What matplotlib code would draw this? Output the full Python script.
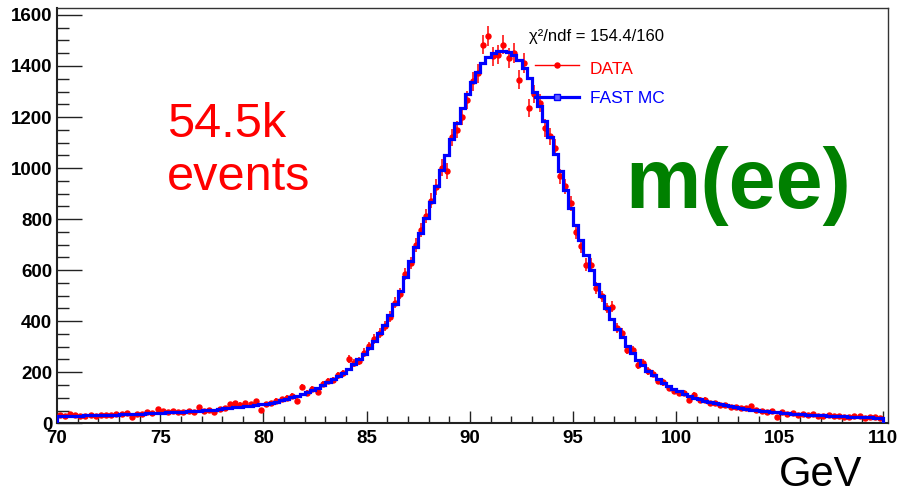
import numpy as np
import matplotlib
matplotlib.use('Agg')
import matplotlib.pyplot as plt
from matplotlib.ticker import MultipleLocator

plt.rcParams['font.family'] = ['Liberation Sans', 'DejaVu Sans']

# ── Binning: 160 bins of 0.25 GeV between 70 and 110 ─────────────────────────
X_MIN, X_MAX, N_BINS = 70.0, 110.0, 160
edges = np.linspace(X_MIN, X_MAX, N_BINS + 1)
centers = 0.5 * (edges[:-1] + edges[1:])

# FAST MC histogram (one row = 2.5 GeV)
mc_counts = np.array([
    28, 29, 29, 30, 30, 31, 31, 32, 32, 33,             # 70.0
    34, 34, 35, 36, 36, 37, 38, 39, 40, 41,             # 72.5
    42, 43, 44, 45, 46, 47, 48, 50, 51, 52,             # 75.0
    54, 56, 58, 60, 62, 64, 67, 69, 72, 74,             # 77.5
    77, 81, 85, 90, 96, 102, 108, 115, 122, 131,        # 80.0
    140, 150, 160, 172, 185, 199, 214, 231, 250, 271,   # 82.5
    295, 322, 352, 386, 424, 466, 518, 575, 635, 690,   # 85.0
    745, 804, 866, 930, 993, 1052, 1114, 1175, 1235, 1290,   # 87.5
    1338, 1378, 1410, 1437, 1450, 1457, 1460, 1456, 1443, 1422,  # 90.0
    1392, 1352, 1300, 1245, 1185, 1120, 1055, 987, 915, 843,    # 92.5
    778, 719, 660, 601, 546, 497, 451, 408, 369, 337,   # 95.0
    302, 275, 248, 227, 206, 188, 172, 158, 146, 135,   # 97.5
    125, 116, 108, 101, 95, 89, 84, 79, 74, 70,         # 100.0
    66, 63, 60, 57, 54, 51, 49, 47, 45, 43,             # 102.5
    41, 40, 38, 37, 35, 34, 33, 32, 31, 30,             # 105.0
    29, 28, 27, 26, 25, 25, 24, 23, 22, 21,             # 107.5
], dtype=float)

# DATA points
data_counts = np.array([
    33, 30, 36, 34, 27, 30, 34, 29, 33, 31,             # 70.0
    33, 36, 38, 42, 24, 37, 38, 45, 40, 55,             # 72.5
    50, 44, 50, 46, 46, 48, 45, 65, 49, 52,             # 75.0
    46, 55, 58, 76, 78, 73, 78, 75, 87, 52,             # 77.5
    74, 80, 88, 94, 99, 107, 89, 141, 118, 134,         # 80.0
    124, 153, 166, 170, 189, 196, 251, 236, 246, 277,   # 82.5
    302, 330, 353, 380, 418, 473, 508, 586, 628, 698,   # 85.0
    756, 812, 872, 925, 1002, 987, 1120, 1150, 1202, 1268,   # 87.5
    1340, 1372, 1484, 1516, 1438, 1444, 1484, 1431, 1451, 1346,  # 90.0
    1412, 1235, 1290, 1255, 1157, 1124, 1080, 967, 928, 863,    # 92.5
    751, 693, 621, 621, 529, 497, 452, 457, 374, 354,   # 95.0
    287, 287, 229, 235, 205, 195, 166, 160, 140, 128,   # 97.5
    120, 118, 91, 111, 93, 92, 80, 80, 72, 70,          # 100.0
    62, 64, 58, 60, 68, 52, 48, 45, 49, 26,             # 102.5
    45, 38, 39, 34, 36, 33, 35, 30, 29, 31,             # 105.0
    27, 30, 26, 24, 27, 28, 22, 25, 23, 20,             # 107.5
], dtype=float)

x_ticks = np.arange(70, 111, 5)
y_ticks = np.arange(0, 1601, 200)

CHI2_TEXT = 'χ²/ndf = 154.4/160'
C_DATA = '#ff0000'
C_MC = '#0000ff'
C_TITLE = '#008000'

# ── Figure ───────────────────────────────────────────────────────────────────
W, H = 900, 494
fig = plt.figure(figsize=(W / 100, H / 100), dpi=100)
ax = fig.add_axes([57 / W, (H - 423.3) / H, 831 / W, (423.3 - 8.3) / H])

ax.errorbar(centers, data_counts, yerr=np.sqrt(data_counts), fmt='o',
            color=C_DATA, ms=3.6, elinewidth=1.1, capsize=0, zorder=3)
ax.stairs(mc_counts, edges, color=C_MC, lw=2.3, baseline=0, zorder=4)

ax.set_xlim(70, 110.25)
ax.set_ylim(0, 1626)
ax.set_xticks(x_ticks)
ax.set_yticks(y_ticks)
ax.xaxis.set_minor_locator(MultipleLocator(1))
ax.yaxis.set_minor_locator(MultipleLocator(50))
ax.tick_params(axis='both', which='both', direction='in', color='#222222',
               width=1.0, labelsize=13.5)
ax.tick_params(axis='x', which='major', length=9, pad=4.5)
ax.tick_params(axis='x', which='minor', length=5)
ax.tick_params(axis='y', which='major', length=18, pad=3.5)
ax.tick_params(axis='y', which='minor', length=8.6)
for lbl in ax.get_xticklabels() + ax.get_yticklabels():
    lbl.set_fontweight('bold')

for side in ('left', 'bottom'):
    ax.spines[side].set_linewidth(1.5)
    ax.spines[side].set_color('#222222')
for side in ('top', 'right'):
    ax.spines[side].set_linewidth(1.0)
    ax.spines[side].set_color('#333333')

def px(x, y):
    return x / W, 1 - y / H

# annotations
fig.text(*px(167, 137), '54.5k', color=C_DATA, fontsize=35, va='baseline')
fig.text(*px(167, 190), 'events', color=C_DATA, fontsize=35, va='baseline')
fig.text(*px(625, 208), 'm(ee)', color=C_TITLE, fontsize=61,
         fontweight='bold', va='baseline')
fig.text(*px(779, 486), 'GeV', color='black', fontsize=30, va='baseline')
fig.text(*px(529, 41), CHI2_TEXT, color='black', fontsize=12, va='baseline')

# legend drawn by hand, ROOT style
fx0, fx1 = px(535, 0)[0], px(579, 0)[0]
fxm = px(557, 0)[0]
fig.add_artist(plt.Line2D([fx0, fx1], [px(0, 65)[1]] * 2, color=C_DATA, lw=1.0))
fig.add_artist(plt.Line2D([fxm], [px(0, 65)[1]], color=C_DATA, marker='o', ms=3.6))
fig.add_artist(plt.Line2D([fx0, fx1], [px(0, 97)[1]] * 2, color=C_MC, lw=2.3))
fig.add_artist(plt.Line2D([fxm], [px(0, 97)[1]], color=C_MC, marker='s', ms=4,
                          mfc='#6060ff'))
fig.text(*px(590, 74), 'DATA', color=C_DATA, fontsize=12.5, va='baseline')
fig.text(*px(590, 103), 'FAST MC', color=C_MC, fontsize=12.5, va='baseline')

fig.savefig('out.png', dpi=100)
